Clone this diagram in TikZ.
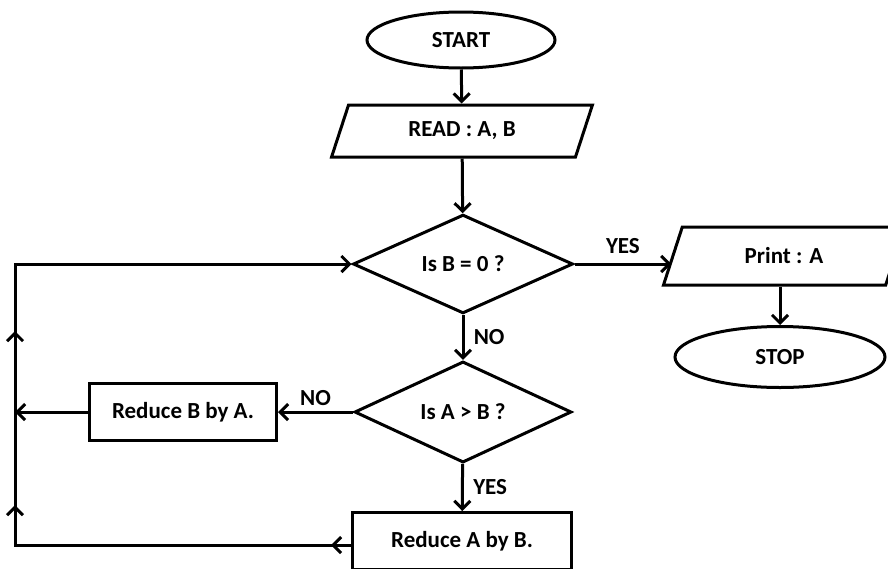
\documentclass[tikz,border=0pt]{standalone}
\usepackage{fontspec}
\setmainfont{Carlito}
\usetikzlibrary{shapes.geometric,arrows.meta,decorations.markings}

\tikzset{
  >={Straight Barb[length=8pt,width=16pt]},
  every node/.style={font=\fontsize{23}{26}\selectfont\bfseries},
  flow/.style={line width=3pt,->},
  terminal/.style={draw,ellipse,line width=3pt,inner sep=0pt},
  io/.style={draw,trapezium,trapezium left angle=66,trapezium right angle=114,
    trapezium stretches=true,line width=3pt,inner sep=0pt},
  decision/.style={draw,diamond,line width=3pt,inner sep=0pt},
  process/.style={draw,rectangle,line width=3pt,inner sep=0pt},
  midarrows/.style={postaction=decorate,decoration={markings,
    mark=at position 20pt with {\arrow[line width=3pt]{>}},
    mark=at position 376pt with {\arrow[line width=3pt]{>}},
    mark=at position 550pt with {\arrow[line width=3pt]{>}}}}
}

\begin{document}
\begin{tikzpicture}[x=1pt,y=-1pt]
      \fill[white] (0,0) rectangle (888,568);
      \useasboundingbox (0,0) rectangle (888,568);

      \node[terminal,minimum width=188pt,minimum height=56pt] at (461,40) (start) {START};
      \node[io,minimum width=261pt,minimum height=52pt] at (462,131) (read) {READ : A, B};
      \node[decision,minimum width=220pt,minimum height=89pt] at (463,264) (isb) {Is B = 0 ?};
      \node[io,minimum width=242pt,minimum height=58pt] at (784,256) (print) {Print : A};
      \node[terminal,minimum width=210pt,minimum height=61pt] at (780,357) (stop) {STOP};
      \node[decision,minimum width=217pt,minimum height=86pt] at (463,412) (isa) {Is A > B ?};
      \node[process,minimum width=187pt,minimum height=57pt] at (183,412) (redb) {Reduce B by A.};
      \node[process,minimum width=219pt,minimum height=57pt] at (462,541) (reda) {Reduce A by B.};

      \coordinate (lb) at (15,545);

      % draw edges
      \draw[flow] (start) -- (read);
      \draw[flow] (read) -- (isb);
      \draw[flow] (isb.east) -- node[midway,above,yshift=6pt] {YES} (isb.east -| print.west);
      \draw[flow] (stop.north |- print.south) -- (stop.north);
      \draw[flow] (isb) -- node[midway,right,xshift=6pt] {NO} (isa);
      \draw[flow] (isa.west) -- node[midway,above,yshift=2pt] {NO} (redb.east);
      \draw[flow] (isa) -- node[midway,right,xshift=6pt] {YES} (reda);
      \draw[flow] (redb.west) -- (redb.west -| lb);
      \draw[flow,midarrows] (reda.west |- lb) -- (lb) -- (lb |- isb.west) -- (isb.west);
  \end{tikzpicture}
\end{document}
